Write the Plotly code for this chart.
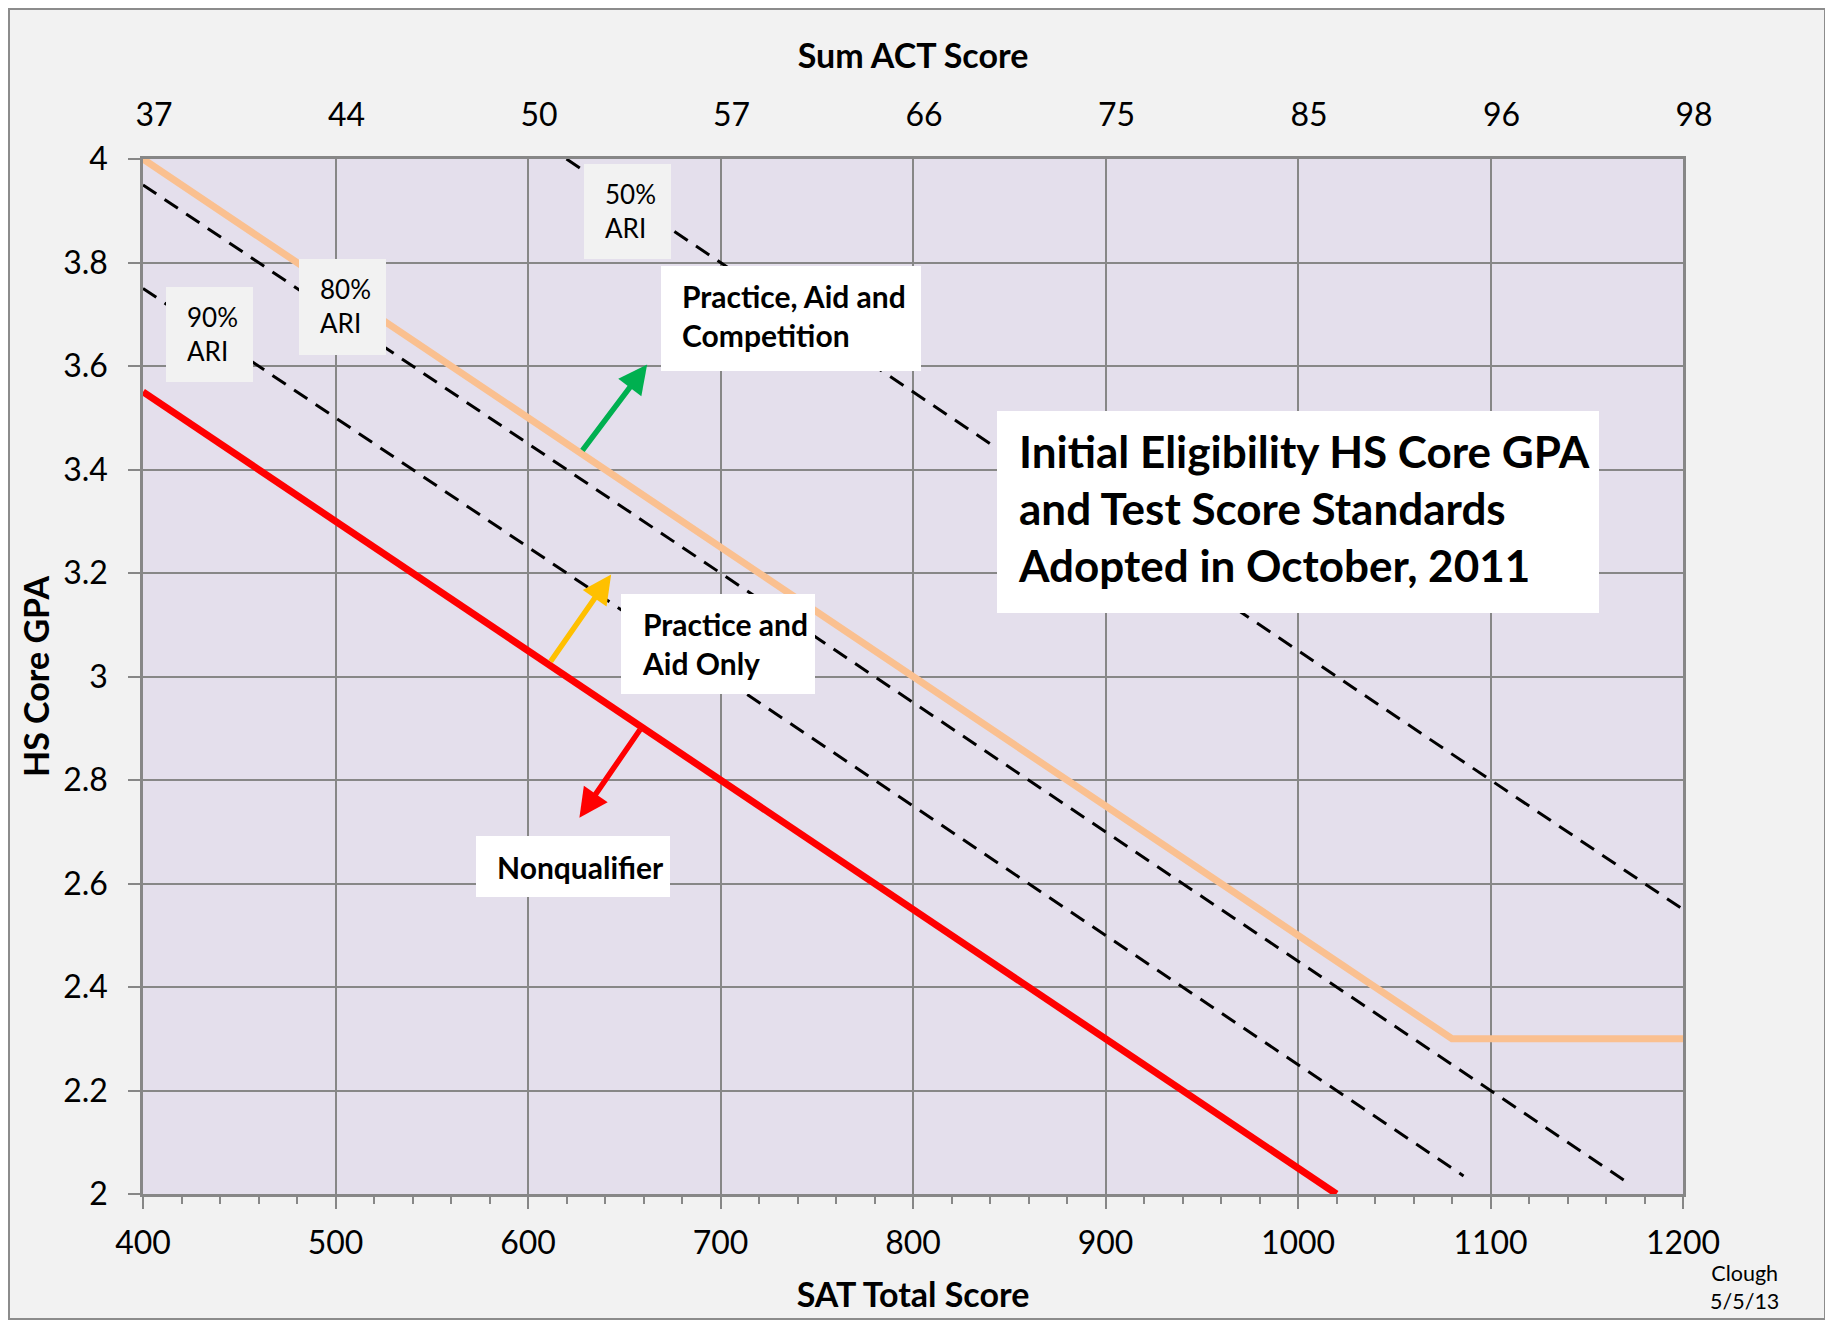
import plotly.graph_objects as go

# ---------------- data ----------------
sat_ticks = [400, 500, 600, 700, 800, 900, 1000, 1100, 1200]
act_labels = ["37", "44", "50", "57", "66", "75", "85", "96", "98"]
gpa_ticks = [2.0, 2.2, 2.4, 2.6, 2.8, 3.0, 3.2, 3.4, 3.6, 3.8, 4.0]
gpa_labels = ["2", "2.2", "2.4", "2.6", "2.8", "3", "3.2", "3.4", "3.6", "3.8", "4"]

full_sat = [400, 1080, 1200]          # Practice, Aid and Competition boundary
full_gpa = [4.0, 2.3, 2.3]
partial_sat = [400, 1020]             # Practice and Aid Only boundary
partial_gpa = [3.55, 2.0]
ari90_sat = [400, 1086]
ari90_gpa = [3.75, 2.035]
ari80_sat = [400, 1170]
ari80_gpa = [3.95, 2.025]
ari50_sat = [620, 1200]
ari50_gpa = [4.0, 2.55]

# arrows: (tail_sat, tail_gpa, tip_sat, tip_gpa)
arrow_green = (627.7, 3.434, 661.9, 3.603)
arrow_yellow = (611.2, 3.026, 643.2, 3.197)
arrow_red = (658.7, 2.900, 626.7, 2.727)

# ---------------- geometry ----------------
OFF = 8                      # page body margin
W, H = 1818, 1312
ML, MR, MT, MB = 135, 143, 151, 126
PW = W - ML - MR
PH = H - MT - MB
X0, X1 = 400, 1200
Y0, Y1 = 2.0, 4.0


def px2x(px):   # page pixel -> SAT
    return X0 + (px - OFF - ML) * (X1 - X0) / PW


def px2y(py):   # page pixel -> GPA
    return Y1 - (py - OFF - MT) * (Y1 - Y0) / PH


def ppx(px):    # page pixel -> paper x
    return (px - OFF - ML) / PW


def ppy(py):    # page pixel -> paper y
    return 1 - (py - OFF - MT) / PH


GRID = "#878787"
FONT = "Lato, 'Open Sans', sans-serif"

fig = go.Figure()

dash = "16px,10px"
for xs, ys in [(ari90_sat, ari90_gpa), (ari80_sat, ari80_gpa), (ari50_sat, ari50_gpa)]:
    fig.add_trace(go.Scatter(x=xs, y=ys, mode="lines",
                             line=dict(color="black", width=3, dash=dash),
                             hoverinfo="skip", showlegend=False))

fig.add_trace(go.Scatter(x=full_sat, y=full_gpa, mode="lines",
                         line=dict(color="#fac090", width=7),
                         hoverinfo="skip", showlegend=False))
fig.add_trace(go.Scatter(x=partial_sat, y=partial_gpa, mode="lines",
                         line=dict(color="#ff0000", width=7),
                         hoverinfo="skip", showlegend=False))
# carrier for the top (ACT) axis
fig.add_trace(go.Scatter(x=[sat_ticks[0], sat_ticks[-1]], y=[None, None], xaxis="x2",
                         mode="lines", hoverinfo="skip", showlegend=False))

shapes = []
annotations = []

# arrows
for (tx, ty, hx, hy), col in [(arrow_green, "#00b050"), (arrow_yellow, "#ffc000"), (arrow_red, "#ff0000")]:
    annotations.append(dict(x=hx, y=hy, ax=tx, ay=ty, xref="x", yref="y", axref="x", ayref="y",
                            text="", showarrow=True, arrowhead=2, arrowsize=1.05,
                            arrowwidth=5.5, arrowcolor=col))

# text boxes: text, left px, top px, width, height, size, bold, fill, text y shift
boxes = [
    ("50%<br>ARI", 584, 164, 87, 95, 26, False, "#f2f2f2", -1),
    ("80%<br>ARI", 299, 259, 87, 96, 26, False, "#f2f2f2", -1),
    ("90%<br>ARI", 166, 287, 87, 95, 26, False, "#f2f2f2", -1),
    ("Practice, Aid and<br>Competition", 661, 266, 260, 105, 30, True, "white", -3),
    ("Practice and<br>Aid Only", 621, 594, 194, 100, 30, True, "white", -1),
    ("Nonqualifier", 476, 836, 194, 61, 30, True, "white", 0),
    ("Initial Eligibility HS Core GPA<br>and Test Score Standards<br>Adopted in October, 2011",
     997, 411, 602, 202, 44, True, "white", -4),
]
for text, l, t, w, h, size, bold, fill, dy in boxes:
    shapes.append(dict(type="rect", xref="x", yref="y", layer="above",
                       x0=px2x(l), x1=px2x(l + w), y0=px2y(t), y1=px2y(t + h),
                       fillcolor=fill, line=dict(width=0)))
    annotations.append(dict(x=px2x(l + 19), y=px2y(t + h / 2 + dy), xref="x", yref="y",
                            xanchor="left", yanchor="middle", align="left",
                            text=f"<b>{text}</b>" if bold else text, showarrow=False,
                            font=dict(size=size, color="black", family=FONT)))

# signature
annotations.append(dict(x=ppx(1744), y=ppy(1287), xref="paper", yref="paper",
                        xanchor="center", yanchor="middle", align="center",
                        text="Clough<br>5/5/13", showarrow=False,
                        font=dict(size=21.5, color="black", family=FONT)))

# gray frame around the chart area
shapes.append(dict(type="rect", xref="paper", yref="paper", layer="above",
                   x0=ppx(9), x1=ppx(1825), y0=ppy(9), y1=ppy(1319),
                   line=dict(color="#8c8c8c", width=2), fillcolor="rgba(0,0,0,0)"))

fig.update_layout(
    width=W, height=H,
    margin=dict(l=ML, r=MR, t=MT, b=MB, autoexpand=False),
    paper_bgcolor="#f2f2f2", plot_bgcolor="#e4dfec",
    font=dict(family=FONT, color="black"),
    showlegend=False,
    shapes=shapes, annotations=annotations,
    xaxis=dict(range=[X0, X1], tickvals=sat_ticks, ticktext=[str(v) for v in sat_ticks],
               showgrid=True, gridcolor=GRID, gridwidth=2, zeroline=False,
               showline=True, linecolor=GRID, linewidth=2.5, mirror=True,
               ticks="outside", ticklen=12, tickwidth=2, tickcolor=GRID,
               minor=dict(dtick=20, tick0=400, ticks="outside", ticklen=7, tickwidth=2,
                          tickcolor=GRID, showgrid=False),
               tickfont=dict(size=32, family=FONT, color="black"),
               ticklabelstandoff=7,
               title=dict(text="<b>SAT Total Score</b>", font=dict(size=34, family=FONT),
                          standoff=24)),
    xaxis2=dict(range=[X0, X1], overlaying="x", side="top", anchor="y",
                tickvals=sat_ticks, ticktext=act_labels, showgrid=False, zeroline=False,
                showline=False, ticks="", tickfont=dict(size=32, family=FONT, color="black"),
                ticklabelstandoff=26, ticklabelshift=11,
                title=dict(text="<b>Sum ACT Score</b>", font=dict(size=34, family=FONT),
                           standoff=14)),
    yaxis=dict(range=[Y0, Y1], tickvals=gpa_ticks, ticktext=gpa_labels,
               showgrid=True, gridcolor=GRID, gridwidth=2, zeroline=False,
               showline=True, linecolor=GRID, linewidth=2.5, mirror=True,
               ticks="outside", ticklen=12, tickwidth=2, tickcolor=GRID,
               tickfont=dict(size=32, family=FONT, color="black"),
               ticklabelstandoff=14,
               title=dict(text="<b>HS Core GPA</b>", font=dict(size=34, family=FONT),
                          standoff=4)),
)

fig.write_html("out.html")
